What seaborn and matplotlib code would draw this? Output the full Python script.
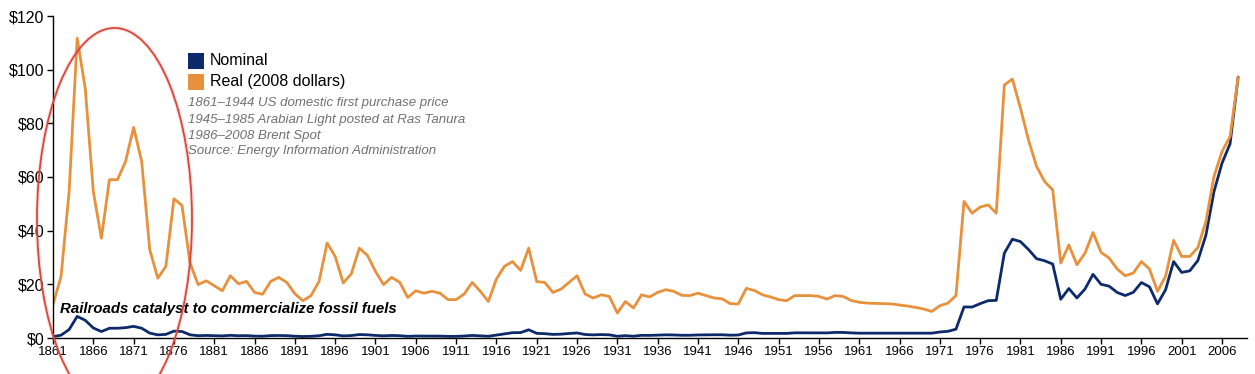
import numpy as np
import pandas as pd
import matplotlib
matplotlib.use("Agg")
import matplotlib.pyplot as plt
from matplotlib.patches import Ellipse, Rectangle
from matplotlib import font_manager
import seaborn as sns

years = np.arange(1861, 2009)

nominal = [
    0.5, 1.05, 3.15, 8.06, 6.6, 3.74, 2.41, 3.63, 3.64, 3.86,
    4.34, 3.64, 1.83, 1.17, 1.35, 2.56, 2.42, 1.19, 0.86, 0.95,
    0.86, 0.78, 1.00, 0.84, 0.88, 0.71, 0.67, 0.88, 0.94, 0.87,
    0.67, 0.56, 0.64, 0.84, 1.36, 1.18, 0.79, 0.91, 1.29, 1.19,
    0.96, 0.80, 0.94, 0.86, 0.62, 0.73, 0.72, 0.72, 0.70, 0.61,
    0.61, 0.74, 0.95, 0.81, 0.64, 1.10, 1.56, 1.98, 2.01, 3.07,
    1.73, 1.61, 1.34, 1.43, 1.68, 1.88, 1.30, 1.17, 1.27, 1.19,
    0.65, 0.87, 0.67, 1.00, 0.97, 1.09, 1.18, 1.13, 1.02, 1.02,
    1.14, 1.19, 1.20, 1.21, 1.05, 1.12, 1.90, 1.99, 1.71, 1.71,
    1.71, 1.71, 1.93, 1.93, 1.93, 1.93, 1.90, 2.08, 2.08, 1.90,
    1.80, 1.80, 1.80, 1.80, 1.80, 1.80, 1.80, 1.80, 1.80, 1.80,
    2.24, 2.48, 3.29, 11.58, 11.53, 12.80, 13.92, 14.02, 31.61, 36.83,
    35.93, 32.97, 29.55, 28.78, 27.56, 14.43, 18.44, 14.92, 18.23, 23.73,
    20.00, 19.32, 16.97, 15.82, 17.02, 20.67, 19.09, 12.72, 17.97, 28.50,
    24.44, 25.02, 28.83, 38.27, 54.52, 65.14, 72.39, 97.26,
]

real = [
    12.4, 23.0, 54.6, 111.7, 93.0, 54.6, 37.2, 59.0, 59.0, 65.8,
    78.5, 65.8, 32.9, 22.3, 26.7, 51.9, 49.4, 27.9, 19.9, 21.3,
    19.5, 17.6, 23.2, 20.2, 21.1, 17.0, 16.3, 21.1, 22.6, 20.7,
    16.5, 13.9, 15.8, 21.1, 35.4, 30.4, 20.5, 23.9, 33.5, 30.8,
    24.8, 19.9, 22.6, 20.8, 15.1, 17.6, 16.7, 17.4, 16.7, 14.3,
    14.3, 16.4, 20.7, 17.4, 13.6, 22.0, 26.7, 28.5, 25.2, 33.5,
    21.0, 20.7, 17.0, 18.2, 20.7, 23.2, 16.4, 14.9, 16.1, 15.5,
    9.3, 13.6, 11.2, 16.1, 15.3, 17.0, 18.0, 17.4, 15.9, 15.8,
    16.7, 15.8, 14.9, 14.6, 12.8, 12.7, 18.5, 17.7, 16.1, 15.3,
    14.3, 13.9, 15.8, 15.8, 15.8, 15.5, 14.5, 15.8, 15.5, 14.0,
    13.3, 13.0, 12.9, 12.8, 12.7, 12.3, 11.9, 11.4, 10.8, 9.9,
    12.0, 13.0, 15.8, 50.9, 46.5, 48.8, 49.6, 46.5, 94.3, 96.5,
    85.6, 73.8, 63.9, 58.3, 55.2, 27.9, 34.7, 27.3, 31.6, 39.3,
    31.9, 29.8, 25.7, 23.2, 24.2, 28.5, 25.7, 17.4, 23.0, 36.4,
    30.4, 30.4, 33.7, 43.4, 60.2, 69.5, 75.1, 97.1,
]

series_names = ["Nominal", "Real (2008 dollars)"]
series_colors = ["#0d2a6b", "#e8913c"]
notes = [
    "1861\u20131944 US domestic first purchase price",
    "1945\u20131985 Arabian Light posted at Ras Tanura",
    "1986\u20132008 Brent Spot",
    "Source: Energy Information Administration",
]
annotation = "Railroads catalyst to commercialize fossil fuels"
x_ticks = list(range(1861, 2007, 5))
y_ticks = [0, 20, 40, 60, 80, 100, 120]

df = pd.DataFrame({
    "year": np.concatenate([years, years]),
    "price": nominal + real,
    "series": [series_names[0]] * len(years) + [series_names[1]] * len(years),
})

sns.set_theme(style="white")
plt.rcParams["font.family"] = ["Liberation Sans", "DejaVu Sans"]

names = {f.name for f in font_manager.fontManager.ttflist}
narrow_ok = "Liberation Sans Narrow" in names
narrow = ["Liberation Sans Narrow"] if narrow_ok else ["Liberation Sans"]

W, H = 1255, 374
fig = plt.figure(figsize=(W / 100, H / 100), dpi=100)
ax = fig.add_axes([53 / W, 36 / H, (1247 - 53) / W, (338 - 16) / H])

sns.lineplot(data=df, x="year", y="price", hue="series",
             hue_order=series_names, palette=series_colors,
             linewidth=2.0, legend=False, ax=ax)

ax.set_xlim(1861, 2009.1)
ax.set_ylim(0, 120)
ax.set_xticks(x_ticks)
ax.set_xticklabels([str(t) for t in x_ticks],
                   fontsize=11 if narrow_ok else 9.5, family=narrow)
ax.set_yticks(y_ticks)
ax.set_yticklabels([f"${v}" for v in y_ticks], fontsize=11.5)
ax.set_xlabel("")
ax.set_ylabel("")
ax.grid(False)
for s in ["top", "right"]:
    ax.spines[s].set_visible(False)
for s in ["left", "bottom"]:
    ax.spines[s].set_color("black")
    ax.spines[s].set_linewidth(1.0)
ax.tick_params(axis="both", which="major", direction="out", length=4,
               width=1, color="black", labelcolor="black", pad=2,
               bottom=True, left=True)

# Legend (manual squares + labels)
for i, (name, col) in enumerate(zip(series_names, series_colors)):
    cy = [60.7, 81.7][i]
    fig.add_artist(Rectangle((188 / W, 1 - (cy + 8) / H), 16 / W, 16 / H,
                             transform=fig.transFigure, facecolor=col,
                             edgecolor="none"))
    fig.text(210 / W, 1 - cy / H, name, fontsize=11.5, color="black",
             va="center", ha="left")

for i, line in enumerate(notes):
    cy = [103, 119.5, 135.5, 151.5][i]
    fig.text(188 / W, 1 - cy / H, line, fontsize=9.5, style="italic",
             color="#707070", va="center", ha="left")

ax.text(1861.9, 9.4, annotation, fontsize=13 if narrow_ok else 10.8,
        family=narrow, style="italic", weight="bold", color="black",
        ha="left", va="baseline")

# Red ellipse highlighting the early period
ell_kw = dict(xy=(114.5 / W, 1 - 219 / H), width=155 / W, height=382 / H,
              transform=fig.transFigure, fill=False)
fig.add_artist(Ellipse(**ell_kw, edgecolor="#e06a60", lw=3.0, alpha=0.18))
fig.add_artist(Ellipse(**ell_kw, edgecolor="#d9463c", lw=1.3))

fig.savefig("out.png", dpi=100)
